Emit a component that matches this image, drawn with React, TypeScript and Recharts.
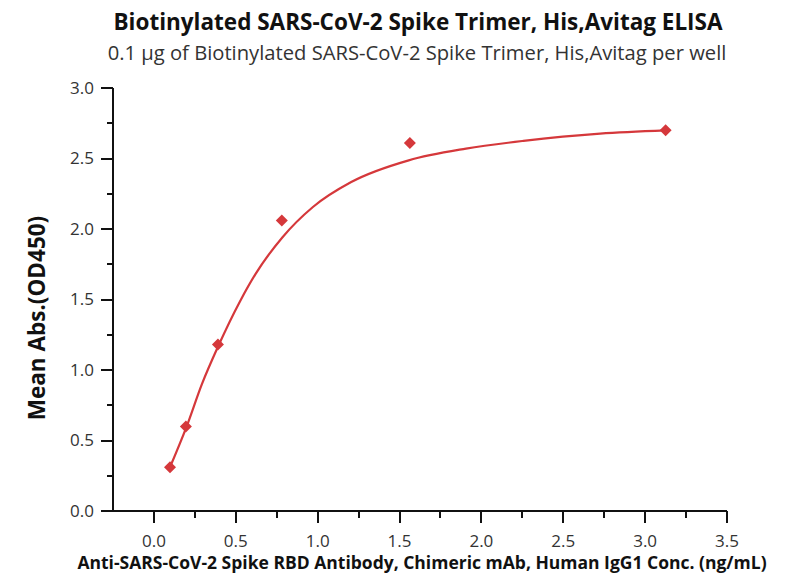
import { ComposedChart, Line, Scatter, XAxis, YAxis, Label } from "recharts";

// measured points (ng/mL vs OD450)
const pointConc = [0.098, 0.195, 0.391, 0.781, 1.563, 3.125];
const pointAbs = [0.31, 0.6, 1.18, 2.06, 2.61, 2.7];

// fitted curve
const fitConc = [0.098, 0.2, 0.293, 0.393, 0.527, 0.62, 0.784, 0.971, 1.205, 1.556, 1.906, 2.257, 2.725, 3.125];
const fitAbs = [0.31, 0.6, 0.9, 1.17, 1.49, 1.68, 1.94, 2.156, 2.333, 2.487, 2.57, 2.625, 2.677, 2.7];

const xTicks = [0, 0.25, 0.5, 0.75, 1, 1.25, 1.5, 1.75, 2, 2.25, 2.5, 2.75, 3, 3.25, 3.5];
const yTicks = [0, 0.25, 0.5, 0.75, 1, 1.25, 1.5, 1.75, 2, 2.25, 2.5, 2.75, 3];

const points = pointConc.map((x, i) => ({ x, y: pointAbs[i] }));
const fit = fitConc.map((x, i) => ({ x, y: fitAbs[i] }));

const RED = "#d5383b";
const INK = "#111";
const FONT = "'Open Sans', sans-serif";

const isMajor = (v: number) => Math.abs(v * 2 - Math.round(v * 2)) < 1e-6;

function XTick({ x, y, payload }: any) {
  const v = payload.value;
  const major = isMajor(v);
  const px = Math.round(x);
  return (
    <g>
      <rect x={px - 1} y={y} width={2} height={major ? 12 : 7} fill={INK} />
      {major && (
        <text x={x} y={y + 30} dy="0.35em" textAnchor="middle" fontSize={17} fill="#333" fontFamily={FONT}>
          {v.toFixed(1)}
        </text>
      )}
    </g>
  );
}

function YTick({ x, y, payload }: any) {
  const v = payload.value;
  const major = isMajor(v);
  const len = major ? 12 : 6;
  const py = Math.round(y);
  return (
    <g>
      <rect x={x - len} y={py - 1} width={len} height={2} fill={INK} />
      {major && (
        <text x={x - 19} y={y} dy="0.35em" textAnchor="end" fontSize={17} fill="#333" fontFamily={FONT}>
          {v.toFixed(1)}
        </text>
      )}
    </g>
  );
}

function Diamond({ cx, cy }: any) {
  const r = 6;
  return <polygon points={`${cx},${cy - r} ${cx + r},${cy} ${cx},${cy + r} ${cx - r},${cy}`} fill={RED} />;
}

export default function App() {
  return (
    <div style={{ position: "relative", width: 789, height: 581, background: "#fff", fontFamily: FONT }}>
      <style>{`body{margin:0}`}</style>
      <div style={{ position: "absolute", top: 6, left: 0, width: 836, textAlign: "center", fontSize: 22.5, fontWeight: 700, color: INK, whiteSpace: "nowrap" }}>
        Biotinylated SARS-CoV-2 Spike Trimer, His,Avitag ELISA
      </div>
      <div style={{ position: "absolute", top: 38, left: 0, width: 834, textAlign: "center", fontSize: 20.2, color: "#333", whiteSpace: "nowrap" }}>
        0.1 μg of Biotinylated SARS-CoV-2 Spike Trimer, His,Avitag per well
      </div>
      <ComposedChart width={789} height={581} margin={{ top: 88, right: 62, bottom: 40, left: 0 }}>
        <XAxis
          type="number"
          dataKey="x"
          domain={[-0.25, 3.5]}
          ticks={xTicks}
          interval={0}
          tickSize={0}
          tickMargin={0}
          tickLine={false}
          tick={<XTick />}
          stroke={INK}
          axisLine={{ stroke: INK, strokeWidth: 2 }}
          height={30}
          allowDataOverflow
        >
          <Label
            content={() => (
              <text x={422} y={563} dy="0.35em" textAnchor="middle" fontSize={17.5} fontWeight={700} fill={INK} fontFamily={FONT}>
                Anti-SARS-CoV-2 Spike RBD Antibody, Chimeric mAb, Human IgG1 Conc. (ng/mL)
              </text>
            )}
          />
        </XAxis>
        <YAxis
          type="number"
          domain={[0, 3]}
          ticks={yTicks}
          interval={0}
          tickSize={0}
          tickMargin={0}
          tickLine={false}
          tick={<YTick />}
          stroke={INK}
          axisLine={{ stroke: INK, strokeWidth: 2 }}
          width={113}
          allowDataOverflow
        >
          <Label
            content={() => (
              <text
                x={37}
                y={318}
                transform="rotate(-90 37 318)"
                textAnchor="middle"
                dy="0.35em"
                fontSize={22.5}
                fontWeight={700}
                fill={INK}
                fontFamily={FONT}
              >
                Mean Abs.(OD450)
              </text>
            )}
          />
        </YAxis>
        <Line
          data={fit}
          dataKey="y"
          type="monotone"
          stroke={RED}
          strokeWidth={2.2}
          dot={false}
          activeDot={false}
          isAnimationActive={false}
        />
        <Scatter data={points} dataKey="y" fill={RED} shape={<Diamond />} isAnimationActive={false} />
      </ComposedChart>
    </div>
  );
}
